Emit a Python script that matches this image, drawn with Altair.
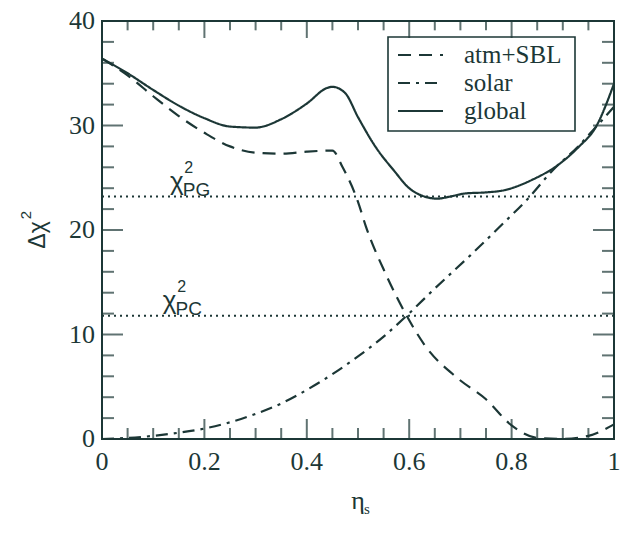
import altair as alt
import pandas as pd

# ---- data ----
atm_x = [0, 0.05, 0.1, 0.15, 0.2, 0.25, 0.3, 0.35, 0.4, 0.45, 0.47, 0.5, 0.515, 0.555, 0.595, 0.63, 0.695, 0.75, 0.8, 0.85, 0.9, 0.95, 1.0]
atm_y = [36.4, 34.8, 32.8, 30.9, 29.3, 28.0, 27.4, 27.3, 27.5, 27.6, 26.0, 22.7, 20.4, 15.7, 11.8, 9.0, 5.8, 3.8, 1.3, 0.1, 0.0, 0.3, 1.4]

solar_x = [0, 0.05, 0.1, 0.15, 0.2, 0.25, 0.3, 0.35, 0.4, 0.45, 0.5, 0.55, 0.595, 0.65, 0.72, 0.785, 0.83, 0.88, 0.93, 0.96, 1.0]
solar_y = [0, 0.1, 0.3, 0.6, 1.0, 1.6, 2.4, 3.4, 4.7, 6.2, 7.9, 9.8, 11.8, 14.4, 17.6, 20.7, 22.9, 25.7, 28.0, 29.6, 31.8]

global_x = [0, 0.05, 0.1, 0.15, 0.2, 0.25, 0.3, 0.35, 0.4, 0.44, 0.45, 0.475, 0.5, 0.535, 0.57, 0.6, 0.63, 0.655, 0.68, 0.71, 0.75, 0.785, 0.84, 0.89, 0.93, 0.965, 1.0]
global_y = [36.4, 35.0, 33.4, 31.9, 30.7, 29.9, 29.8, 30.6, 32.1, 33.6, 33.7, 33.1, 30.8, 27.9, 25.7, 24.0, 23.2, 23.0, 23.2, 23.5, 23.6, 23.8, 24.8, 26.2, 27.9, 29.9, 34.0]

series_names = ["atm+SBL", "solar", "global"]
chi_names = ["PG", "PC"]
chi_values = [23.2, 11.8]

x_major = [0, 0.2, 0.4, 0.6, 0.8, 1.0]
x_labels = ["0", "0.2", "0.4", "0.6", "0.8", "1"]
x_minor = [0.05, 0.1, 0.15, 0.25, 0.3, 0.35, 0.45, 0.5, 0.55, 0.65, 0.7, 0.75, 0.85, 0.9, 0.95]
y_major = [0, 10, 20, 30, 40]
y_labels = ["0", "10", "20", "30", "40"]
y_minor = [2, 4, 6, 8, 12, 14, 16, 18, 22, 24, 26, 28, 32, 34, 36, 38]

# ---- styling ----
W, H = 512, 418
INK = "#1c3736"
SERIF = "Liberation Serif"
SANS = "Liberation Sans"
dashes = [[13, 8], [12, 6, 3, 6], [1, 0]]

df = pd.concat([
    pd.DataFrame({"series": "atm+SBL", "x": atm_x, "y": atm_y}),
    pd.DataFrame({"series": "solar", "x": solar_x, "y": solar_y}),
    pd.DataFrame({"series": "global", "x": global_x, "y": global_y}),
])

xscale = alt.Scale(domain=[0, 1], nice=False, zero=False)
yscale = alt.Scale(domain=[0, 40], nice=False, zero=False)


def XF(field):
    return alt.X(field, scale=xscale, axis=None)


def YF(field):
    return alt.Y(field, scale=yscale, axis=None)


lines = alt.Chart(df).mark_line(color=INK, strokeWidth=2.2, interpolate="monotone").encode(
    x=XF("x:Q"), y=YF("y:Q"),
    strokeDash=alt.StrokeDash("series:N", scale=alt.Scale(domain=series_names, range=dashes), legend=None),
    detail="series:N",
)

chi_df = pd.DataFrame({"name": chi_names, "cy": chi_values})
chi_rules = alt.Chart(chi_df).mark_rule(color=INK, strokeWidth=2, strokeDash=[2, 4]).encode(y=YF("cy:Q"))

lab_df = pd.DataFrame({"name": chi_names, "cy": chi_values, "lx": [0.146, 0.132]})
chi_sym = alt.Chart(lab_df).mark_text(text="χ", font=SANS, fontSize=26, align="center",
                                       baseline="alphabetic", dy=-7, color=INK).encode(x=XF("lx:Q"), y=YF("cy:Q"))
chi_sup = alt.Chart(lab_df).mark_text(text="2", font=SANS, fontSize=16, align="center",
                                       baseline="alphabetic", dx=12, dy=-24, color=INK).encode(x=XF("lx:Q"), y=YF("cy:Q"))
chi_sub = alt.Chart(lab_df).mark_text(font=SANS, fontSize=19, align="left",
                                       baseline="alphabetic", dx=6, dy=-1, color=INK).encode(
    x=XF("lx:Q"), y=YF("cy:Q"), text="name:N")


# inward ticks on all four sides
def xticks(vals, length):
    d = pd.DataFrame({"tx": vals})
    b = alt.Chart(d).mark_tick(color=INK, thickness=2, size=length, orient="vertical").encode(
        x=XF("tx:Q"), y=alt.value(H - length / 2))
    t = alt.Chart(d).mark_tick(color=INK, thickness=2, size=length * 0.85, orient="vertical").encode(
        x=XF("tx:Q"), y=alt.value(length * 0.85 / 2))
    return [b, t]


def yticks(vals, length):
    d = pd.DataFrame({"ty": vals})
    l = alt.Chart(d).mark_tick(color=INK, thickness=2, size=length, orient="horizontal").encode(
        y=YF("ty:Q"), x=alt.value(length / 2))
    r = alt.Chart(d).mark_tick(color=INK, thickness=2, size=length, orient="horizontal").encode(
        y=YF("ty:Q"), x=alt.value(W - length / 2))
    return [l, r]


ticks = xticks(x_major, 20) + xticks(x_minor, 11) + yticks(y_major, 21) + yticks(y_minor, 12)

# tick labels
xl_df = pd.DataFrame({"tx": x_major, "lab": x_labels})
x_lab = alt.Chart(xl_df).mark_text(font=SERIF, fontSize=26, align="center", baseline="middle", color=INK).encode(
    x=XF("tx:Q"), y=alt.value(H + 23), text="lab:N")
yl_df = pd.DataFrame({"ty": y_major, "lab": y_labels})
y_lab = alt.Chart(yl_df).mark_text(font=SERIF, fontSize=26, align="right", baseline="middle", color=INK).encode(
    y=YF("ty:Q"), x=alt.value(-7), text="lab:N")

# legend
one = pd.DataFrame({"k": [0]})
legend_box = alt.Chart(one).mark_rect(filled=False, stroke=INK, strokeWidth=1.6).encode(
    x=alt.value(286), x2=alt.value(473), y=alt.value(16), y2=alt.value(110))
legend_layers = [legend_box]
for i, name in enumerate(series_names):
    ry = 34 + i * 28
    d = pd.DataFrame({"series": [name]})
    legend_layers.append(alt.Chart(d).mark_rule(color=INK, strokeWidth=2.2, strokeDash=dashes[i]).encode(
        x=alt.value(296), x2=alt.value(341), y=alt.value(ry)))
    legend_layers.append(alt.Chart(d).mark_text(font=SERIF, fontSize=25, align="left", baseline="middle",
                                                color=INK).encode(
        x=alt.value(362), y=alt.value(ry), text="series:N"))

# axis titles
eta = alt.Chart(one).mark_text(text="η", font=SERIF, fontSize=26, align="center", baseline="alphabetic",
                               color=INK).encode(x=alt.value(W / 2), y=alt.value(H + 70))
eta_s = alt.Chart(one).mark_text(text="s", font=SERIF, fontSize=15, align="left", baseline="alphabetic",
                                 color=INK).encode(x=alt.value(W / 2 + 6), y=alt.value(H + 75))
ytitle = alt.Chart(one).mark_text(text="Δχ", font=SANS, fontSize=23, angle=270, align="center",
                                  baseline="middle", color=INK).encode(x=alt.value(-64), y=alt.value(214))
ytitle2 = alt.Chart(one).mark_text(text="2", font=SANS, fontSize=15, angle=270, align="center",
                                   baseline="middle", color=INK).encode(x=alt.value(-76), y=alt.value(194))

chart = alt.layer(
    chi_rules, lines, chi_sym, chi_sup, chi_sub, *ticks, x_lab, y_lab,
    *legend_layers, eta, eta_s, ytitle, ytitle2
).properties(
    width=W, height=H,
    padding={"left": 11, "top": 0, "right": 0, "bottom": 0},
).configure_view(stroke=INK, strokeWidth=2)

chart.save("out.html", embed_options={"renderer": "svg", "actions": False})
